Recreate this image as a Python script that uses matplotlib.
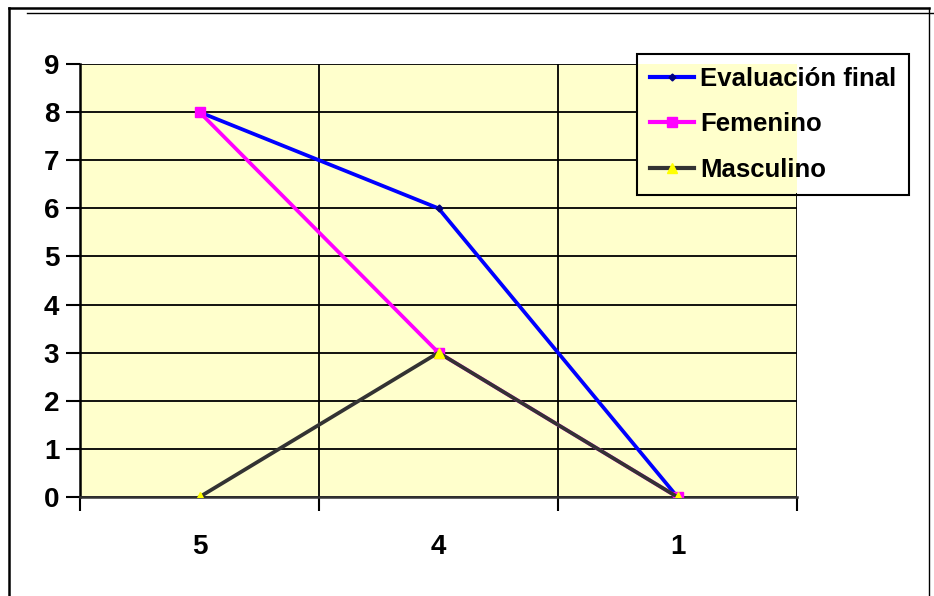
import matplotlib
matplotlib.use("Agg")
import matplotlib.pyplot as plt
from matplotlib.patches import Rectangle
from matplotlib.lines import Line2D

categories = ["5", "4", "1"]
evaluacion_final = [8, 6, 0]
femenino = [8, 3, 0]
masculino = [0, 3, 0]
y_ticks = list(range(0, 10))

plt.rcParams["font.family"] = ["Liberation Sans", "DejaVu Sans"]

W, H = 934, 596
fig = plt.figure(figsize=(W / 100, H / 100), dpi=100)

def px(x0, y0, x1, y1):
    return [x0 / W, 1 - y1 / H, (x1 - x0) / W, (y1 - y0) / H]

ax = fig.add_axes(px(80, 64, 797, 497))
ax.set_facecolor("#FFFFCC")

x = list(range(len(categories)))
ax.plot(x, evaluacion_final, color="#0000FF", lw=2.7, marker="D", ms=3.5,
        mfc="#000080", mec="#000080", label="Evaluación final", zorder=3)
ax.plot(x, femenino, color="#FF00FF", lw=2.7, marker="s", ms=7,
        mfc="#FF00FF", mec="#FF00FF", label="Femenino", zorder=4)
ax.plot(x, masculino, color="#333333", lw=2.7, marker="^", ms=7.5,
        mfc="#FFFF00", mec="#FFFF00", label="Masculino", zorder=5)

ax.set_xlim(-0.5, len(categories) - 0.5)
ax.set_ylim(0, 9)
ax.set_yticks(y_ticks)
ax.set_xticks(x)
ax.set_xticklabels(categories)
ax.set_xticks([i - 0.5 for i in range(len(categories) + 1)], minor=True)

ax.grid(True, axis="y", which="major", color="black", lw=1.3)
ax.grid(True, axis="x", which="minor", color="black", lw=1.3)
ax.set_axisbelow(True)
for s in ("top", "right"):
    ax.spines[s].set_visible(False)
ax.spines["left"].set_linewidth(1.8)
ax.spines["bottom"].set_linewidth(1.8)
ax.spines["bottom"].set_color("#333333")

ax.tick_params(axis="y", direction="out", length=10, width=1.5, pad=5,
               labelsize=20)
ax.tick_params(axis="x", which="major", length=0, pad=27, labelsize=20)
ax.tick_params(axis="x", which="minor", direction="out", length=10, width=1.5)
for lab in ax.get_xticklabels() + ax.get_yticklabels():
    lab.set_fontweight("bold")

# area under the legend box: white, with the plot fill continuing inside
fig.add_artist(Rectangle((637 / W, 1 - 193 / H), 270 / W, 140 / H,
                         transform=fig.transFigure, facecolor="white",
                         edgecolor="none", zorder=2))
fig.add_artist(Rectangle((637 / W, 1 - 193 / H), 160 / W, 129 / H,
                         transform=fig.transFigure, facecolor="#FFFFCC",
                         edgecolor="none", zorder=2.1))

handles = [
    Line2D([], [], color="#0000FF", lw=3, marker="D", ms=3.5,
           mfc="#000080", mec="#000080"),
    Line2D([], [], color="#FF00FF", lw=3, marker="s", ms=7,
           mfc="#FF00FF", mec="#FF00FF"),
    Line2D([], [], color="#333333", lw=3, marker="^", ms=7.5,
           mfc="#FFFF00", mec="#FFFF00"),
]
leg = fig.legend(handles, ["Evaluación final", "Femenino", "Masculino"],
                 loc="upper left", bbox_to_anchor=(637 / W, 1 - 54 / H),
                 frameon=True, fancybox=False, borderpad=0.5,
                 handlelength=1.7, handletextpad=0.25, labelspacing=0.84,
                 borderaxespad=0,
                 prop={"size": 18.5, "weight": "bold"})
frame = leg.get_frame()
frame.set_facecolor("none")
frame.set_edgecolor("black")
frame.set_linewidth(1.5)
frame.set_alpha(1)
leg.set_zorder(3)

# outer chart border
fig.add_artist(Line2D([9 / W, 9 / W], [0, 1 - 8 / H], color="black", lw=1.8,
                      transform=fig.transFigure))
fig.add_artist(Line2D([9 / W, 929 / W], [1 - 8 / H, 1 - 8 / H], color="black",
                      lw=1.8, transform=fig.transFigure))
fig.add_artist(Line2D([929 / W, 929 / W], [0, 1 - 8 / H], color="black",
                      lw=1.0, transform=fig.transFigure))
fig.add_artist(Line2D([27 / W, 1], [1 - 13 / H, 1 - 13 / H], color="black",
                      lw=1.0, transform=fig.transFigure))

fig.savefig("out.png", dpi=100)
